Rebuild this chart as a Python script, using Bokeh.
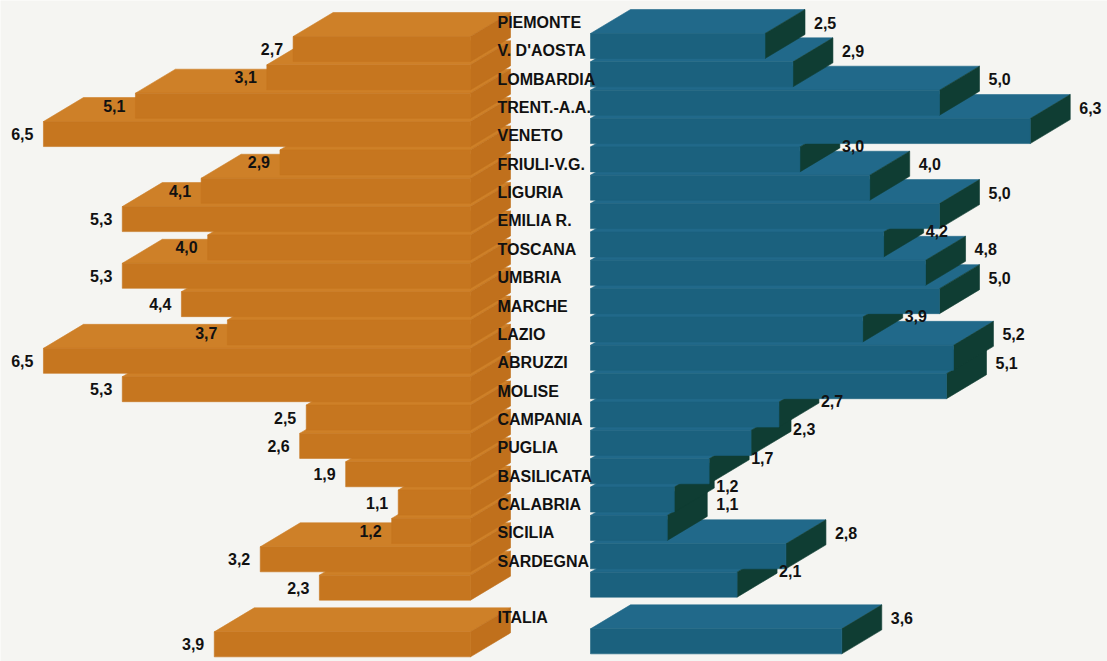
from bokeh.plotting import figure
from bokeh.models import Range1d, ColumnDataSource
from bokeh.core.properties import value
from bokeh.embed import file_html
from bokeh.resources import INLINE

# ---- data -------------------------------------------------------------
regions = ["PIEMONTE", "V. D'AOSTA", "LOMBARDIA", "TRENT.-A.A.", "VENETO",
           "FRIULI-V.G.", "LIGURIA", "EMILIA R.", "TOSCANA", "UMBRIA",
           "MARCHE", "LAZIO", "ABRUZZI", "MOLISE", "CAMPANIA", "PUGLIA",
           "BASILICATA", "CALABRIA", "SICILIA", "SARDEGNA"]
left_values = [2.7, 3.1, 5.1, 6.5, 2.9, 4.1, 5.3, 4.0, 5.3, 4.4,
               3.7, 6.5, 5.3, 2.5, 2.6, 1.9, 1.1, 1.2, 3.2, 2.3]
right_values = [2.5, 2.9, 5.0, 6.3, 3.0, 4.0, 5.0, 4.2, 4.8, 5.0,
                3.9, 5.2, 5.1, 2.7, 2.3, 1.7, 1.2, 1.1, 2.8, 2.1]
total_label = "ITALIA"
total_left = 3.9
total_right = 3.6

# ---- layout (pixels) ---------------------------------------------------
W, H = 1107, 661
ROW0, ROW_STEP = 33.0, 28.35      # top edge of first row, row pitch
FRONT_H = 25.0                    # height of the front face of a slab
DEPTH_X, DEPTH_Y = 40.0, 24.0     # oblique depth of the slabs
L_ZERO, L_SCALE = 470.0, 65.7     # left stack: zero position, px per unit
R_ZERO, R_SCALE = 590.0, 69.8     # right stack: zero position, px per unit
L_OFF, R_OFF = 3.0, 0.0
NAME_X = 497.0

BG = "#F5F5F2"
OR_FRONT, OR_TOP, OR_SIDE = "#C6761F", "#CE8028", "#C0701C"
TE_FRONT, TE_TOP, TE_SIDE = "#1B617E", "#21698A", "#0F3D33"
FONT = value("Liberation Sans")

names = regions + [total_label]
lv = left_values + [total_left]
rv = right_values + [total_right]
rows = list(range(len(regions))) + [len(regions) + 1]
n = len(names)

p = figure(width=W, height=H, output_backend="svg", toolbar_location=None,
           x_range=Range1d(-R_ZERO / R_SCALE, (W - R_ZERO) / R_SCALE),
           y_range=Range1d(H, 0),
           x_axis_location=None, y_axis_location=None,
           min_border=0, background_fill_color=BG, border_fill_color=BG)
p.extra_x_ranges = {"left": Range1d(L_ZERO / L_SCALE, -(W - L_ZERO) / L_SCALE)}
p.grid.visible = False
p.outline_line_color = None

# ---- slabs: painted from the bottom row upwards ------------------------
def stack(values, direction, scale, off, c_front, c_top, c_side):
    d = DEPTH_X / scale * direction
    xs, ys, cols = [], [], []
    for k in reversed(range(n)):
        v = values[k]
        t = ROW0 + ROW_STEP * rows[k] + off
        if direction > 0:
            top_x = [0, v, v + d, d]
            end = v
        else:
            top_x = [v, 0, d, v + d]
            end = 0
        xs.append(top_x)
        ys.append([t, t, t - DEPTH_Y, t - DEPTH_Y])
        cols.append(c_top)
        xs.append([end, end + d, end + d, end])
        ys.append([t, t - DEPTH_Y, t - DEPTH_Y + FRONT_H, t + FRONT_H])
        cols.append(c_side)
        xs.append([0, v, v, 0])
        ys.append([t, t, t + FRONT_H, t + FRONT_H])
        cols.append(c_front)
    return ColumnDataSource(dict(xs=xs, ys=ys, c=cols))

# left stack: values grow leftwards, depth goes up-right
left_src = stack(lv, -1, L_SCALE, L_OFF, OR_FRONT, OR_TOP, OR_SIDE)
p.patches("xs", "ys", source=left_src, x_range_name="left",
          fill_color="c", line_color="c", line_width=0.6)

right_src = stack(rv, 1, R_SCALE, R_OFF, TE_FRONT, TE_TOP, TE_SIDE)
p.patches("xs", "ys", source=right_src,
          fill_color="c", line_color="c", line_width=0.6)

def fmt(v):
    return f"{v:.1f}".replace(".", ",")

# ---- region names ------------------------------------------------------
name_src = ColumnDataSource(dict(
    x=[(NAME_X - R_ZERO) / R_SCALE] * n,
    y=[ROW0 + ROW_STEP * r - 11 for r in rows],
    t=names))
p.text("x", "y", text="t", source=name_src, text_font=FONT,
       text_font_style="bold", text_font_size="16px", text_color="#111111",
       text_align="left", text_baseline="middle")

# ---- left value labels (beside the front face) -------------------------
lsrc = ColumnDataSource(dict(
    x=[v + 10 / L_SCALE for v in lv],
    y=[ROW0 + ROW_STEP * r + L_OFF + FRONT_H / 2 for r in rows],
    t=[fmt(v) for v in lv]))
p.text("x", "y", text="t", source=lsrc, x_range_name="left", text_font=FONT,
       text_font_style="bold", text_font_size="16px", text_color="#111111",
       text_align="right", text_baseline="middle")

# ---- right value labels (beside the end face) --------------------------
rx, ry = [], []
for k in range(n):
    v = rv[k]
    t = ROW0 + ROW_STEP * rows[k] + R_OFF
    first = k == 0 or rows[k] - rows[k - 1] > 1
    exposed = first or (v - rv[k - 1]) * R_SCALE + DEPTH_X > 15
    if exposed:
        rx.append(v + (DEPTH_X + 9) / R_SCALE)
        ry.append(t - 11)
    else:
        rx.append(v + (DEPTH_X + 2) / R_SCALE)
        ry.append(t - 1)
rsrc = ColumnDataSource(dict(x=rx, y=ry, t=[fmt(v) for v in rv]))
p.text("x", "y", text="t", source=rsrc, text_font=FONT,
       text_font_style="bold", text_font_size="16px", text_color="#111111",
       text_align="left", text_baseline="middle")

open("out.html", "w").write(file_html(p, INLINE))
